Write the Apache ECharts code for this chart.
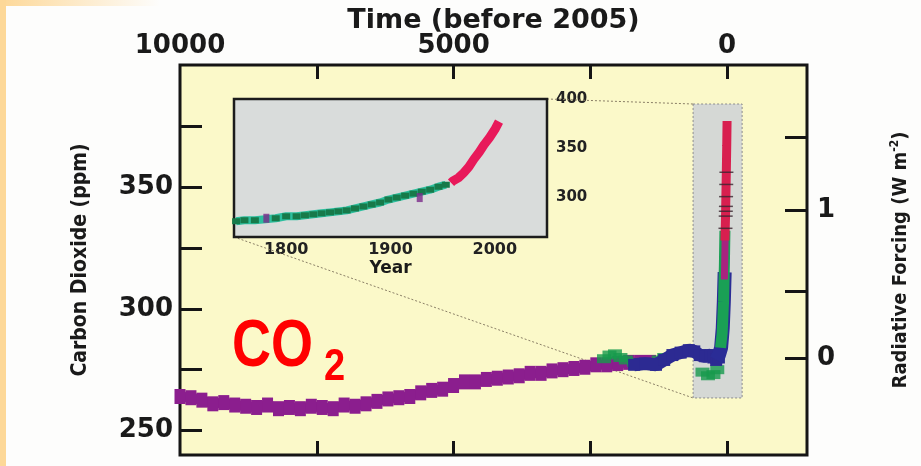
<!DOCTYPE html>
<html>
<head>
<meta charset="utf-8">
<script src="https://cdn.jsdelivr.net/npm/echarts@6/dist/echarts.min.js"></script>
<style>
  html, body { margin: 0; padding: 0; background: #fdfdfc; }
  #chart { width: 921px; height: 466px; }
</style>
</head>
<body>
<div id="chart"></div>
<script>
// --- main panel: CO2 (ppm) vs years before 2005 ---
const purpleBP  = [10000, 9800, 9600, 9400, 9200, 9000, 8800, 8600, 8400, 8200, 8000, 7800, 7600, 7400, 7200, 7000, 6800, 6600, 6400, 6200, 6000, 5800, 5600, 5400, 5200, 5000, 4800, 4600, 4400, 4200, 4000, 3800, 3600, 3400, 3200, 3000, 2800, 2600, 2400, 2200, 2000, 1800, 1600, 1400]
const purplePpm = [264, 263.5, 262.5, 261, 261.5, 260.5, 260, 259.5, 260.5, 259, 259.5, 259, 260, 259.5, 259, 260.5, 260, 261, 262, 263, 263.5, 264, 265.5, 266.5, 267, 268.5, 270, 270, 271, 271.5, 272, 272.5, 273.5, 273.5, 274.5, 275, 275.5, 276, 277, 277, 277.5, 278, 278, 278]
const blueBP    = [1700, 1500, 1300, 1150, 1000, 850, 700, 600, 500, 400, 300, 250, 200, 150]
const bluePpm   = [277, 277.5, 277, 279, 281, 282, 283, 282.5, 281, 280.5, 281, 280, 279, 280]
const greenBP   = [2250, 2150, 2050, 1950, 1850, 1700, 1250, 1150, 450, 350, 250, 180]
const greenPpm  = [279.5, 281, 281.5, 280, 279, 278, 279, 280, 274, 272.5, 273, 275]
const spikeBlueBP  = [200, 150, 110, 80, 60, 45]
const spikeBluePpm = [279, 281, 284, 292, 303, 315]
const spikeGreenBP  = [120, 90, 65, 50, 40]
const spikeGreenPpm = [284, 290, 303, 318, 332]
const spikeMagBP  = [50, 40, 32]
const spikeMagPpm = [312, 324, 336]
const redBP  = [40, 30, 22, 14, 7, 1]
const redPpm = [328, 337, 347, 357, 367, 377]
const hashBP  = [30, 26, 22, 19, 16, 13, 24]
const hashPpm = [333, 338, 342, 346, 351, 356, 340]

// axis ticks / labels
const timeTicks   = [0, 2500, 5000, 7500]
const timeLabels  = [0, 5000, 10000]
const ppmTicks    = [250, 275, 300, 325, 350, 375]
const ppmLabels   = [250, 300, 350]
const rfTickPpm   = [279.5, 307, 340.5, 370.5]
const rfTickLabel = ['0', '', '1', '']

// zoom box (years BP, ppm) drawn on the main panel
const zoomBoxBP  = [622, -274]
const zoomBoxPpm = [263.4, 384]

// --- inset: 1750-2050 ---
const iceYear = [1752, 1760, 1770, 1790, 1800, 1810, 1818, 1826, 1834, 1842, 1850, 1858, 1866, 1874, 1882, 1890, 1898, 1906, 1914, 1922, 1930, 1938, 1946, 1953]
const icePpm  = [276, 277, 277, 279, 281, 281, 282, 283, 284, 285, 286, 287, 289, 291, 293, 295, 298, 300, 302, 304, 306, 308, 311, 313]
const insetPurpleYear = [1781, 1928]
const insetPurplePpm  = [279, 300]
const mloYear = [1958, 1960, 1965, 1970, 1975, 1980, 1985, 1990, 1995, 2000, 2004]
const mloPpm  = [315, 317, 320, 325, 331, 339, 346, 354, 361, 369, 377]
const insetYearTicks  = [1800, 1850, 1900, 1950, 2000]
const insetYearLabels = [1800, 1900, 2000]
const insetPpmTicks   = [275, 300, 325, 350, 375]
const insetPpmLabels  = [300, 350, 400]

const zip = (a, b) => a.map((v, i) => [v, b[i]])
const plain = v => String(v)

const BOLD = 'DejaVu Sans'
const NARROW = "'Liberation Sans Narrow', 'DejaVu Sans Condensed', 'Liberation Sans'"

const chart = echarts.init(document.getElementById('chart'))

const noLine = { show: false, onZero: false }
const mainX = { type: 'value', gridIndex: 0, inverse: true, min: -1460, max: 10000, axisLine: noLine, splitLine: { show: false } }
const mainY = { type: 'value', gridIndex: 0, min: 240, max: 400, axisLine: noLine, splitLine: { show: false } }
const mainTick = { color: '#151515', width: 3 }
const insetTick = { color: '#1c1c1c', width: 2.5 }

const option = {
  animation: false,
  backgroundColor: '#fdfdfc',
  grid: [
    { left: 180, top: 65, right: 114, bottom: 11, outerBoundsMode: 'none', containLabel: false, show: true, backgroundColor: '#fbf9c9', borderColor: '#151515', borderWidth: 3 },
    { left: 234, top: 99, width: 313, height: 138, outerBoundsMode: 'none', containLabel: false, show: true, backgroundColor: '#d9dcdb', borderColor: '#1c1c1c', borderWidth: 2.5, z: 3 }
  ],
  xAxis: [
    Object.assign({}, mainX, {
      position: 'bottom', z: 20,
      axisTick: { show: true, inside: true, length: 14, lineStyle: mainTick, customValues: timeTicks },
      axisLabel: { show: false }
    }),
    Object.assign({}, mainX, {
      position: 'top',
      name: 'Time (before 2005)', nameLocation: 'middle', nameGap: 31, nameMoveOverlap: false,
      nameTextStyle: { fontFamily: BOLD, fontWeight: 'bold', fontSize: 27, color: '#1a1a1a' },
      axisTick: { inside: true, length: 14, lineStyle: mainTick, customValues: timeTicks },
      axisLabel: { margin: 6, customValues: timeLabels, formatter: plain, fontFamily: BOLD, fontWeight: 'bold', fontSize: 26, color: '#1a1a1a' }
    }),
    {
      type: 'value', gridIndex: 1, min: 1750, max: 2050, position: 'bottom',
      name: 'Year', nameLocation: 'middle', nameGap: 23,
      nameTextStyle: { fontFamily: BOLD, fontWeight: 'bold', fontSize: 17, color: '#1a1a1a' },
      axisLine: noLine, splitLine: { show: false },
      axisTick: { inside: true, length: 6, lineStyle: insetTick, customValues: insetYearTicks },
      axisLabel: { margin: 5, customValues: insetYearLabels, formatter: plain, fontFamily: BOLD, fontWeight: 'bold', fontSize: 16, color: '#222' }
    },
    {
      type: 'value', gridIndex: 1, min: 1750, max: 2050, position: 'top',
      axisLine: noLine, splitLine: { show: false },
      axisTick: { inside: true, length: 6, lineStyle: insetTick, customValues: insetYearTicks },
      axisLabel: { show: false }
    }
  ],
  yAxis: [
    Object.assign({}, mainY, {
      position: 'left',
      name: 'Carbon Dioxide (ppm)', nameLocation: 'middle', nameGap: 89, nameRotate: 90,
      nameTextStyle: { fontFamily: NARROW, fontWeight: 'bold', fontSize: 21, color: '#1a1a1a' },
      axisTick: { inside: true, length: 22, lineStyle: mainTick, customValues: ppmTicks },
      axisLabel: { margin: 7, customValues: ppmLabels, fontFamily: BOLD, fontWeight: 'bold', fontSize: 26, color: '#1a1a1a' }
    }),
    Object.assign({}, mainY, {
      position: 'right',
      name: '{n|Radiative Forcing (W m}{s|-2}{n|)}', nameLocation: 'middle', nameGap: 82, nameRotate: 90,
      nameTextStyle: {
        color: '#1a1a1a',
        rich: {
          n: { fontFamily: NARROW, fontWeight: 'bold', fontSize: 20, color: '#1a1a1a' },
          s: { fontFamily: NARROW, fontWeight: 'bold', fontSize: 12, color: '#1a1a1a', padding: [0, 0, 11, 0] }
        }
      },
      axisTick: { inside: true, length: 22, lineStyle: mainTick, customValues: rfTickPpm },
      axisLabel: {
        margin: 10, fontFamily: BOLD, fontWeight: 'bold', fontSize: 26, color: '#1a1a1a',
        customValues: rfTickPpm.filter((v, i) => rfTickLabel[i] !== ''),
        formatter: v => rfTickLabel[rfTickPpm.indexOf(v)]
      }
    }),
    {
      type: 'value', gridIndex: 1, min: 260, max: 400, position: 'left',
      axisLine: noLine, splitLine: { show: false },
      axisTick: { inside: true, length: 6, lineStyle: insetTick, customValues: insetPpmTicks },
      axisLabel: { show: false }
    },
    {
      type: 'value', gridIndex: 1, min: 260, max: 400, position: 'right',
      axisLine: noLine, splitLine: { show: false },
      axisTick: { inside: true, length: 6, lineStyle: insetTick, customValues: insetPpmTicks },
      axisLabel: { margin: 9, customValues: insetPpmLabels, fontFamily: BOLD, fontWeight: 'bold', fontSize: 15, color: '#222' }
    }
  ],
  series: [
    // zoom box on main panel
    {
      type: 'line', xAxisIndex: 0, yAxisIndex: 0, data: [], z: 1, silent: true,
      markArea: {
        silent: true,
        itemStyle: { color: '#d5d8d5', borderColor: '#8c8c8c', borderWidth: 1, borderType: [2, 2] },
        data: [[{ coord: [zoomBoxBP[0], zoomBoxPpm[1]] }, { coord: [zoomBoxBP[1], zoomBoxPpm[0]] }]]
      }
    },
    {
      type: 'line', xAxisIndex: 0, yAxisIndex: 0, data: zip(purpleBP, purplePpm), z: 2,
      lineStyle: { color: '#8b1e8e', width: 10 }, symbol: 'rect', symbolSize: [11, 15],
      itemStyle: { color: '#8b1e8e' }
    },
    {
      type: 'scatter', xAxisIndex: 0, yAxisIndex: 0, data: zip(greenBP, greenPpm), z: 3,
      symbol: 'rect', symbolSize: [14, 9], itemStyle: { color: '#169a4c' }
    },
    {
      type: 'line', xAxisIndex: 0, yAxisIndex: 0, data: zip(blueBP, bluePpm), z: 4,
      lineStyle: { color: '#2c2a92', width: 13 }, symbol: 'rect', symbolSize: [12, 12],
      itemStyle: { color: '#2c2a92' }
    },
    {
      type: 'line', xAxisIndex: 0, yAxisIndex: 0, data: zip(spikeBlueBP, spikeBluePpm), z: 5,
      lineStyle: { color: '#2a2c96', width: 14 }, showSymbol: false
    },
    {
      type: 'line', xAxisIndex: 0, yAxisIndex: 0, data: zip(spikeGreenBP, spikeGreenPpm), z: 6,
      lineStyle: { color: '#1aa055', width: 11 }, showSymbol: false
    },
    {
      type: 'line', xAxisIndex: 0, yAxisIndex: 0, data: zip(spikeMagBP, spikeMagPpm), z: 7,
      lineStyle: { color: '#a8237f', width: 7 }, showSymbol: false
    },
    {
      type: 'line', xAxisIndex: 0, yAxisIndex: 0, data: zip(redBP, redPpm), z: 8,
      lineStyle: { color: '#d81f4f', width: 9 }, showSymbol: false
    },
    {
      type: 'scatter', xAxisIndex: 0, yAxisIndex: 0, data: zip(hashBP, hashPpm), z: 9,
      symbol: 'rect', symbolSize: [14, 1.5], itemStyle: { color: '#3a2630' }
    },
    // inset
    {
      type: 'line', xAxisIndex: 2, yAxisIndex: 2, data: zip(iceYear, icePpm), z: 10,
      lineStyle: { color: '#2cbf9e', width: 8 }, symbol: 'rect', symbolSize: [8, 6],
      itemStyle: { color: '#177a4a' }
    },
    {
      type: 'scatter', xAxisIndex: 2, yAxisIndex: 2, data: zip(insetPurpleYear, insetPurplePpm), z: 11,
      symbol: 'rect', symbolSize: [6, 9], itemStyle: { color: '#7a2a8a' }
    },
    {
      type: 'line', xAxisIndex: 2, yAxisIndex: 2, data: zip(mloYear, mloPpm), z: 11,
      lineStyle: { color: '#e8195a', width: 9 }, showSymbol: false
    }
  ],
  graphic: [
    { id: 'stripL', type: 'rect', left: 0, top: 0, shape: { width: 6, height: 466 }, style: { fill: '#fdd898' }, z: 100 },
    {
      id: 'stripT', type: 'rect', left: 0, top: 0, shape: { width: 160, height: 6 }, z: 100,
      style: { fill: new echarts.graphic.LinearGradient(0, 0, 1, 0, [{ offset: 0, color: '#fdd898' }, { offset: 1, color: 'rgba(253,216,152,0)' }]) }
    },
    {
      id: 'co', type: 'text', left: 232, top: 314, z: 100,
      style: { text: 'CO', fontFamily: 'Liberation Sans', fontWeight: 'bold', fontSize: 54, fill: '#ff0000' },
      scaleY: 1.25
    },
    {
      id: 'co2', type: 'text', left: 324, top: 346, z: 100,
      style: { text: '2', fontFamily: 'Liberation Sans', fontWeight: 'bold', fontSize: 38, fill: '#ff0000' },
      scaleY: 1.15
    }
  ]
}

chart.setOption(option)

// dotted connectors between inset and zoom box
const a1 = chart.convertToPixel({ xAxisIndex: 2, yAxisIndex: 2 }, [1750, 260])
const a2 = chart.convertToPixel({ xAxisIndex: 2, yAxisIndex: 2 }, [2050, 400])
const b1 = chart.convertToPixel({ xAxisIndex: 0, yAxisIndex: 0 }, [zoomBoxBP[0], zoomBoxPpm[0]])
const b2 = chart.convertToPixel({ xAxisIndex: 0, yAxisIndex: 0 }, [zoomBoxBP[0], zoomBoxPpm[1]])
const dotted = { stroke: '#8a7f66', lineWidth: 1, lineDash: [2, 2] }
chart.setOption({
  graphic: [
    { id: 'linkLow', type: 'line', z: 2, shape: { x1: a1[0], y1: a1[1], x2: b1[0], y2: b1[1] }, style: dotted },
    { id: 'linkHigh', type: 'line', z: 2, shape: { x1: a2[0], y1: a2[1], x2: b2[0], y2: b2[1] }, style: dotted }
  ]
})
</script>
</body>
</html>
